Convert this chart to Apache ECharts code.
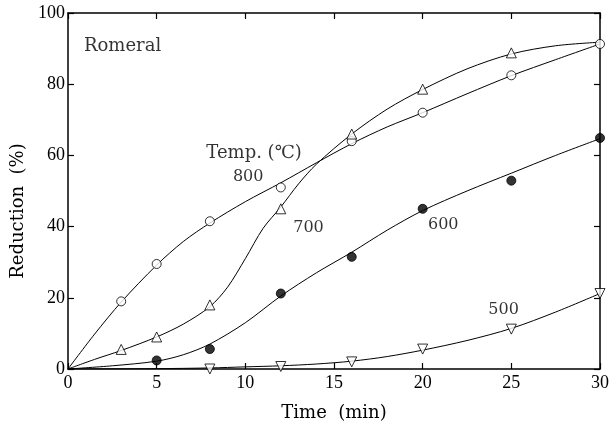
<!DOCTYPE html>
<html>
<head>
<meta charset="utf-8">
<script src="https://cdn.jsdelivr.net/npm/echarts@6/dist/echarts.min.js"></script>
<style>
  html, body { margin: 0; padding: 0; background: #fff; }
  #chart { width: 612px; height: 430px; }
</style>
</head>
<body>
<div id="chart"></div>
<script>
// measured points (time in min, reduction in %)
var t800 = [3, 5, 8, 12, 16, 20, 25, 30];
var r800 = [19, 29.5, 41.5, 51, 64, 72, 82.5, 91.3];
var t700 = [3, 5, 8, 12, 16, 20, 25];
var r700 = [5.5, 9, 18, 45, 66, 78.6, 88.8];
var t600 = [5, 8, 12, 16, 20, 25, 30];
var r600 = [2.4, 5.6, 21.2, 31.5, 45, 52.9, 64.9];
var t500 = [8, 12, 16, 20, 25, 30];
var r500 = [0, 0.7, 2, 5.6, 11.2, 21.2];

// drawn curves
var c800x = [0, 1.5, 3, 5, 6.5, 8, 10, 12, 14, 16, 18, 20, 22.5, 25, 27.5, 30];
var c800y = [0, 9.8, 18.8, 29.2, 35.8, 41, 47, 52.3, 57.9, 63.3, 68, 72, 77.3, 82.4, 86.9, 91.3];
var c700x = [0, 1.5, 3, 5, 6.5, 8, 9, 10, 11, 12, 13, 14, 16, 18, 20, 22.5, 25, 27.5, 30];
var c700y = [0, 2.7, 5.2, 9, 12.6, 17.5, 23, 31, 39.5, 45.5, 52, 57.5, 66, 73, 78.5, 84.3, 88.5, 90.8, 91.8];
var c600x = [0, 2.5, 5, 6.5, 8, 10, 12, 14, 16, 18, 20, 22.5, 25, 27.5, 30];
var c600y = [0, 0.9, 2.2, 4, 7, 13, 20.5, 27, 32.8, 39, 44.5, 50, 55, 60, 64.7];
var c500x = [0, 5, 8, 10, 12, 14, 16, 18, 20, 22.5, 25, 27.5, 30];
var c500y = [0, 0.1, 0.3, 0.6, 0.9, 1.4, 2.2, 3.5, 5.3, 8, 11.4, 16, 21.2];

// annotations
var noteText = ['Romeral', 'Temp. (\u2103)', '800', '700', '600', '500'];
var noteSize = [18, 18, 16, 16, 16, 16];
var noteX = [0.9, 7.8, 9.3, 12.7, 20.3, 23.7];
var noteY = [90.5, 60.5, 54, 39.7, 40.5, 16.7];

var xTicks = [0, 5, 10, 15, 20, 25, 30];
var yTicks = [0, 20, 40, 60, 80, 100];

function pairs(xs, ys) {
    return xs.map(function (x, i) { return [x, ys[i]]; });
}

var chart = echarts.init(document.getElementById('chart'));
var ink = '#000';
var numFont = 'Liberation Serif';
var txtFont = 'DejaVu Serif';

function curve(xs, ys) {
    return {
        type: 'line',
        data: pairs(xs, ys),
        smooth: 0.3,
        showSymbol: false,
        lineStyle: { color: ink, width: 1 },
        silent: true,
        z: 2
    };
}

function marks(xs, ys, symbol, size, filled, rotate) {
    return {
        type: 'scatter',
        data: pairs(xs, ys),
        symbol: symbol,
        symbolSize: size,
        symbolRotate: rotate || 0,
        itemStyle: {
            color: filled ? ink : '#fff',
            borderColor: ink,
            borderWidth: 1
        },
        z: 5
    };
}

var axisCommon = {
    type: 'value',
    axisLine: { show: true, onZero: false, lineStyle: { color: ink, width: 1.5 } },
    axisTick: { show: true, inside: true, length: 6, lineStyle: { color: ink, width: 1.2 } },
    splitLine: { show: false }
};

var option = {
    animation: false,
    backgroundColor: '#fff',
    grid: { left: 68, right: 12, top: 13, bottom: 61 },
    xAxis: [
        Object.assign({}, axisCommon, {
            position: 'bottom',
            min: xTicks[0], max: xTicks[xTicks.length - 1], interval: 5,
            axisLabel: { color: ink, fontFamily: numFont, fontSize: 18, margin: 5 },
            name: 'Time  (min)',
            nameLocation: 'middle',
            nameGap: 35,
            nameTextStyle: { color: ink, fontFamily: txtFont, fontSize: 18 }
        }),
        Object.assign({}, axisCommon, {
            position: 'top',
            min: xTicks[0], max: xTicks[xTicks.length - 1], interval: 5,
            axisLabel: { show: false }
        })
    ],
    yAxis: [
        Object.assign({}, axisCommon, {
            position: 'left',
            min: yTicks[0], max: yTicks[yTicks.length - 1], interval: 20,
            axisLabel: { color: ink, fontFamily: numFont, fontSize: 18, margin: 3 },
            name: 'Reduction  (%)',
            nameLocation: 'middle',
            nameGap: 38,
            nameRotate: 90,
            nameTextStyle: { color: ink, fontFamily: txtFont, fontSize: 18, padding: [0, 40, 0, 0] }
        }),
        Object.assign({}, axisCommon, {
            position: 'right',
            min: yTicks[0], max: yTicks[yTicks.length - 1], interval: 20,
            axisLabel: { show: false }
        })
    ],
    series: [
        curve(c800x, c800y),
        curve(c700x, c700y),
        curve(c600x, c600y),
        curve(c500x, c500y),
        marks(t800, r800, 'circle', 9, false),
        marks(t700, r700, 'triangle', 10, false),
        marks(t600, r600, 'circle', 9, true),
        marks(t500, r500, 'triangle', 10, false, 180),
        {
            type: 'scatter',
            symbolSize: 0,
            silent: true,
            data: noteText.map(function (s, i) {
                return { value: [noteX[i], noteY[i]], name: s, label: { fontSize: noteSize[i] } };
            }),
            label: {
                show: true,
                position: 'right',
                distance: 0,
                formatter: '{b}',
                color: ink,
                fontFamily: txtFont,
                fontSize: 16
            },
            z: 6
        }
    ]
};

chart.setOption(option);
window.addEventListener('resize', function () { chart.resize(); });
</script>
</body>
</html>
